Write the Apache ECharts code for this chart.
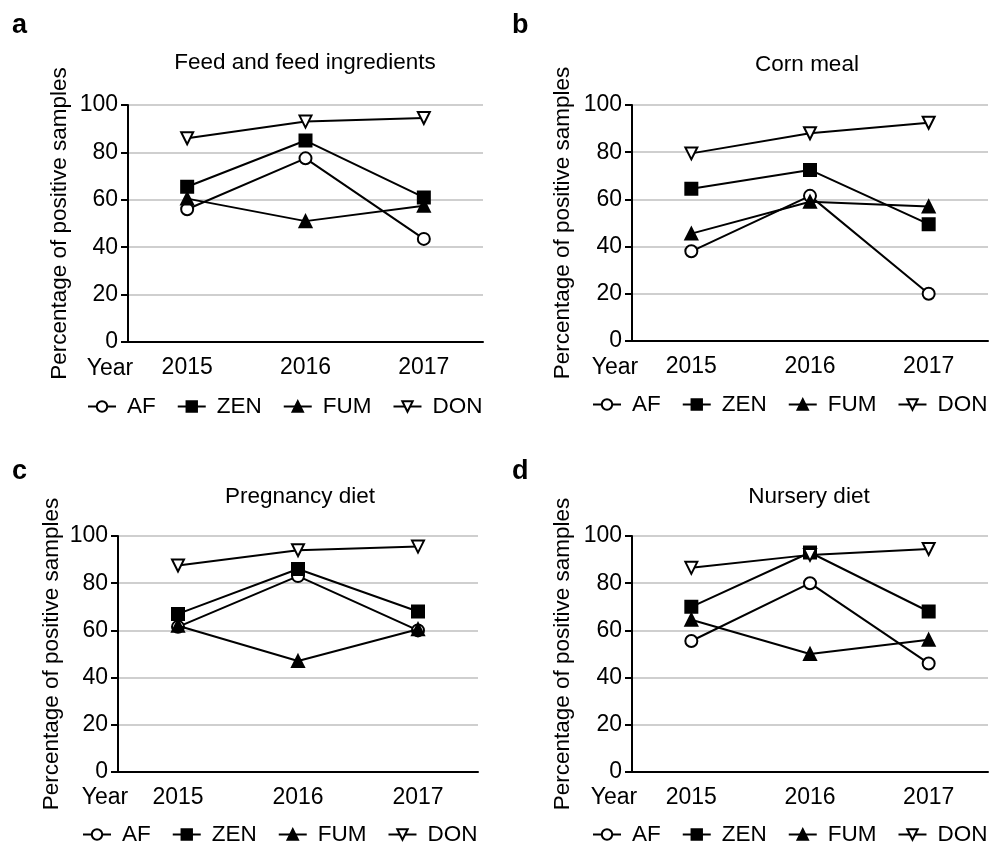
<!DOCTYPE html>
<html>
<head>
<meta charset="utf-8">
<script src="https://cdn.jsdelivr.net/npm/echarts@6/dist/echarts.min.js"></script>
<style>
  html, body { margin: 0; padding: 0; background: #fff; }
  #chart { width: 991px; height: 845px; }
</style>
</head>
<body>
<div id="chart"></div>
<script>
// categories
const years = ["2015", "2016", "2017"];
const toxins = ["AF", "ZEN", "FUM", "DON"];
const panelLetters = ["a", "b", "c", "d"];
const panelTitles = ["Feed and feed ingredients", "Corn meal", "Pregnancy diet", "Nursery diet"];

// a - feed and feed ingredients
const feedAF = [56, 77.5, 43.5];
const feedZEN = [65.5, 85, 61];
const feedFUM = [60.5, 51, 57.5];
const feedDON = [86, 93, 94.5];
// b - corn meal
const cornAF = [38, 61.5, 20];
const cornZEN = [64.5, 72.5, 49.5];
const cornFUM = [45.5, 59, 57];
const cornDON = [79.5, 88, 92.5];
// c - pregnancy diet
const pregAF = [61.5, 83, 60];
const pregZEN = [67, 86, 68];
const pregFUM = [62, 47, 60.5];
const pregDON = [87.5, 94, 95.5];
// d - nursery diet
const nurAF = [55.5, 80, 46];
const nurZEN = [70, 93, 68];
const nurFUM = [64.5, 50, 56];
const nurDON = [86.5, 92, 94.5];

const panelData = [
  [feedAF, feedZEN, feedFUM, feedDON],
  [cornAF, cornZEN, cornFUM, cornDON],
  [pregAF, pregZEN, pregFUM, pregDON],
  [nurAF, nurZEN, nurFUM, nurDON]
];

const FONT = "'Liberation Sans', Arial, Helvetica, sans-serif";

// layout of each panel
const layout = [
  { left: 128, top: 105, width: 355, height: 237, nameGap: 57, legendLeft: 87, legendTop: 395,
    letter: [12, 39], title: [305, 63], year: [110, 369] },
  { left: 632, top: 105, width: 356, height: 236, nameGap: 58, legendLeft: 592, legendTop: 393,
    letter: [512, 39], title: [807, 65], year: [615, 368] },
  { left: 118, top: 536, width: 360, height: 236, nameGap: 55, legendLeft: 82, legendTop: 823,
    letter: [12, 485], title: [300, 497], year: [105, 798] },
  { left: 632, top: 536, width: 356, height: 236, nameGap: 58, legendLeft: 592, legendTop: 823,
    letter: [512, 485], title: [809, 497], year: [614, 798] }
];

// marker styles per toxin
const markers = {
  AF: { symbol: "circle", fill: "#fff", rotate: 0 },
  ZEN: { symbol: "rect", fill: "#000", rotate: 0 },
  FUM: { symbol: "triangle", fill: "#000", rotate: 0 },
  DON: { symbol: "triangle", fill: "#fff", rotate: 180 }
};

const grids = [], xAxes = [], yAxes = [], series = [], legends = [], graphics = [];

layout.forEach(function (p, i) {
  grids.push({ left: p.left, top: p.top, width: p.width, height: p.height, containLabel: false });
  xAxes.push({
    type: "category",
    gridIndex: i,
    data: years,
    boundaryGap: true,
    axisLine: { lineStyle: { color: "#000", width: 2 } },
    axisTick: { alignWithLabel: true, length: 8, lineStyle: { color: "#000", width: 2 } },
    axisLabel: { color: "#000", fontSize: 23, fontFamily: FONT, margin: 14 },
    splitLine: { show: false }
  });
  yAxes.push({
    type: "value",
    gridIndex: i,
    min: 0,
    max: 100,
    interval: 20,
    name: "Percentage of positive samples",
    nameLocation: "middle",
    nameGap: p.nameGap,
    nameRotate: 90,
    nameTextStyle: { color: "#000", fontSize: 22.5, fontFamily: FONT },
    axisLine: { show: true, lineStyle: { color: "#000", width: 2 } },
    axisTick: { show: true, length: 7, lineStyle: { color: "#000", width: 2 } },
    axisLabel: { color: "#000", fontSize: 23, fontFamily: FONT, margin: 10 },
    splitLine: { show: true, lineStyle: { color: "#cfcfcf", width: 2 } }
  });
  toxins.forEach(function (t, k) {
    const m = markers[t];
    series.push({
      name: t,
      type: "line",
      xAxisIndex: i,
      yAxisIndex: i,
      data: panelData[i][k],
      symbol: m.symbol,
      symbolSize: 12,
      symbolRotate: m.rotate,
      showAllSymbol: true,
      lineStyle: { color: "#000", width: 2 },
      itemStyle: { color: m.fill, borderColor: "#000", borderWidth: 2 },
      emphasis: { disabled: true },
      z: 3 + k
    });
  });
  legends.push({
    data: toxins,
    left: p.legendLeft,
    top: p.legendTop,
    width: 440,
    orient: "horizontal",
    itemWidth: 28,
    itemHeight: 13,
    itemGap: 21,
    padding: 0,
    selectedMode: false,
    textStyle: { color: "#000", fontSize: 22.5, fontFamily: FONT, padding: [0, 0, 0, 6] }
  });
  graphics.push({
    type: "text",
    x: p.letter[0],
    y: p.letter[1],
    style: { text: panelLetters[i], font: "bold 27px " + FONT, fill: "#000", align: "left", verticalAlign: "bottom" }
  });
  graphics.push({
    type: "text",
    x: p.title[0],
    y: p.title[1],
    style: { text: panelTitles[i], font: "22.5px " + FONT, fill: "#000", align: "center", verticalAlign: "middle" }
  });
  graphics.push({
    type: "text",
    x: p.year[0],
    y: p.year[1],
    style: { text: "Year", font: "23px " + FONT, fill: "#000", align: "center", verticalAlign: "middle" }
  });
});

const chart = echarts.init(document.getElementById("chart"), null, { renderer: "canvas" });
chart.setOption({
  animation: false,
  backgroundColor: "#fff",
  grid: grids,
  xAxis: xAxes,
  yAxis: yAxes,
  legend: legends,
  series: series,
  graphic: graphics
});
</script>
</body>
</html>
